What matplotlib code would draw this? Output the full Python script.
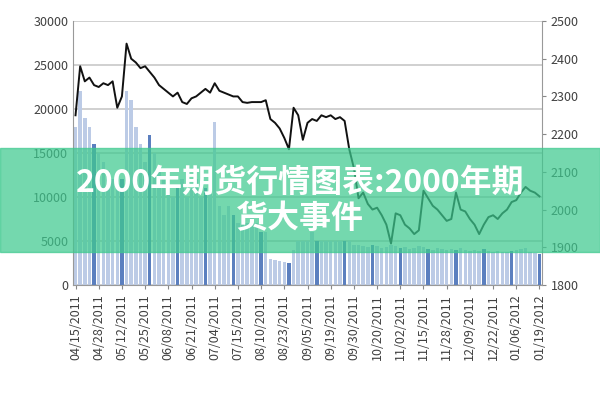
import matplotlib.pyplot as plt
import numpy as np

plt.rcParams['font.family'] = ['Noto Sans CJK SC', 'DejaVu Sans']

tick_labels = ["04/15/2011", "04/28/2011", "05/12/2011", "05/25/2011", "06/08/2011",
               "06/21/2011", "07/04/2011", "07/15/2011", "08/10/2011", "08/23/2011",
               "09/05/2011", "09/19/2011", "09/30/2011", "10/20/2011", "11/02/2011",
               "11/15/2011", "11/28/2011", "12/09/2011", "12/22/2011", "01/06/2012",
               "01/19/2012"]

# price (right axis)
price = [2250, 2380, 2340, 2350, 2330, 2325, 2335, 2330, 2340, 2270,
         2300, 2440, 2400, 2390, 2375, 2380, 2365, 2350, 2330, 2320,
         2310, 2300, 2310, 2285, 2280, 2295, 2300, 2310, 2320, 2310,
         2335, 2315, 2310, 2305, 2300, 2300, 2285, 2283, 2285, 2285,
         2285, 2290, 2240, 2230, 2215, 2190, 2160, 2270, 2250, 2185,
         2230, 2240, 2235, 2250, 2245, 2250, 2240, 2245, 2235, 2160,
         2110, 2030, 2045, 2015, 2000, 2005, 1985, 1960, 1910, 1990,
         1985, 1960, 1950, 1935, 1945, 2050, 2030, 2010, 2000, 1985,
         1970, 1975, 2045, 2000, 1995, 1975, 1960, 1935, 1960, 1980,
         1985, 1975, 1990, 2000, 2020, 2025, 2045, 2060, 2050, 2045,
         2035]

# volume (left axis)
volume = [18000, 22000, 19000, 18000, 16000, 15000, 14000, 13000, 12000, 11000,
          12000, 22000, 21000, 18000, 16000, 14000, 17000, 15000, 13000, 12000,
          11000, 10000, 11000, 12000, 10000, 11000, 12000, 10000, 11000, 10500,
          18500, 9000, 8000, 9000, 8000, 7000, 8000, 7000, 8000, 7000,
          6000, 6000, 3000, 2800, 2700, 2600, 2500, 4000, 5000, 5000,
          5000, 6000, 5000, 5000, 5000, 5000, 5000, 5000, 5000, 5000,
          4500, 4500, 4400, 4300, 4500, 4400, 4200, 4300, 4500, 4400,
          4200, 4300, 4100, 4200, 4400, 4300, 4100, 4000, 4200, 4100,
          4000, 4100, 4000, 4200, 4000, 3900, 4000, 3900, 4100, 3900,
          3800, 3900, 3700, 3800, 3900, 4000, 4100, 4200, 3800, 3600,
          3500]

x = np.arange(len(price))
colors = ['#5b7fbf' if i % 6 == 4 else '#bccbe6' for i in x]

fig = plt.figure(figsize=(6, 4), dpi=100)
ax = fig.add_axes([0.122, 0.2875, 0.781, 0.66])
ax.set_axisbelow(True)
ax.bar(x, volume, width=0.75, color=colors)
ax.set_ylim(0, 30000)
ax.set_yticks(range(0, 30001, 5000))
ax.grid(axis='y', color='#c8c8c8', linewidth=1.2)
ax.set_xlim(-0.5, len(price) - 0.5)
ax.set_xticks(x[::5])
ax.set_xticklabels(tick_labels, rotation=90, fontsize=9, color='#404040')
ax.tick_params(axis='y', labelsize=9, labelcolor='#404040', length=0)
ax.tick_params(axis='x', length=3, color='#888')
for s in ['top', 'right']:
    ax.spines[s].set_visible(False)
for s in ['left', 'bottom']:
    ax.spines[s].set_color('#999')

ax2 = ax.twinx()
ax2.plot(x, price, color='#111', linewidth=1.4)
ax2.set_ylim(1800, 2500)
ax2.set_yticks(range(1800, 2501, 100))
ax2.tick_params(axis='y', labelsize=9, labelcolor='#404040', length=3, color='#888')
for s in ['top', 'left', 'bottom']:
    ax2.spines[s].set_visible(False)
ax2.spines['right'].set_color('#999')

# banner overlay
fig.patches.append(plt.Rectangle((0, 0.37), 1, 0.26, transform=fig.transFigure,
                                 color='#3ec98f', alpha=0.72, zorder=5))
fig.text(0.5, 0.543, "2000年期货行情图表:2000年期", ha='center', va='center',
         fontsize=23, fontweight='bold', color='white', zorder=6)
fig.text(0.5, 0.452, "货大事件", ha='center', va='center',
         fontsize=23, fontweight='bold', color='white', zorder=6)

fig.savefig('out.png', dpi=100)
